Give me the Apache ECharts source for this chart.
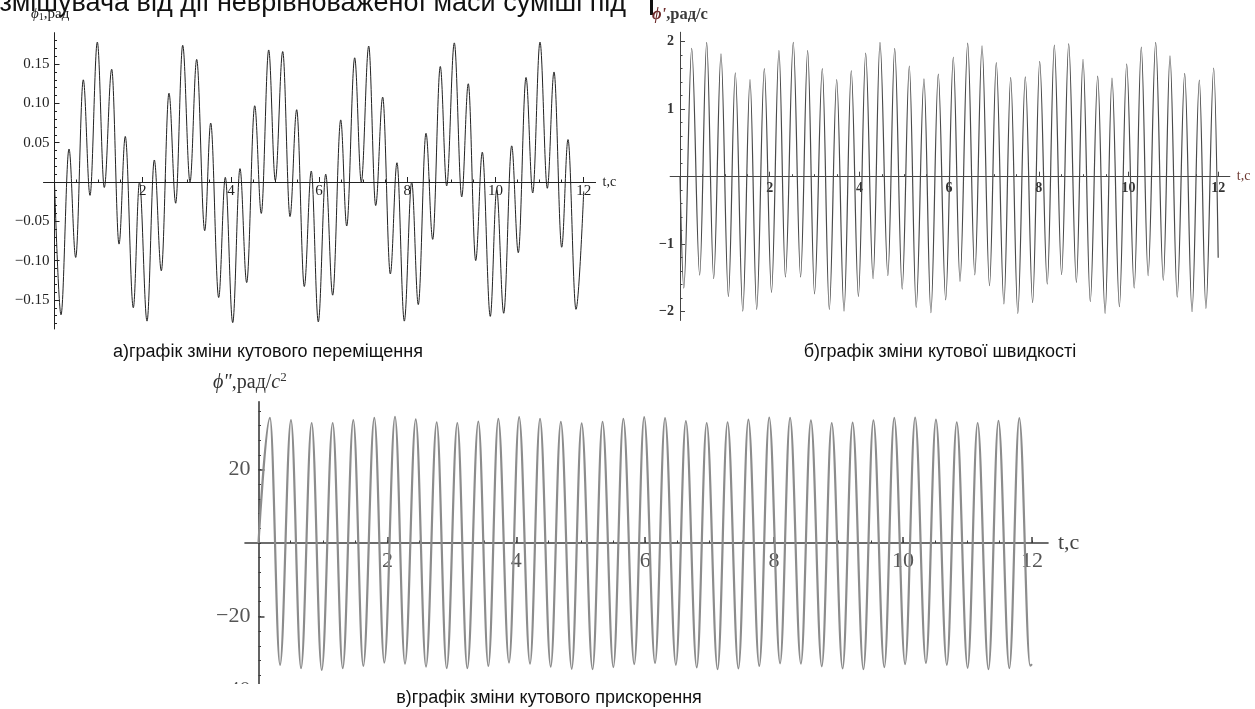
<!DOCTYPE html>
<html><head><meta charset="utf-8">
<script src="https://cdn.jsdelivr.net/npm/echarts@6/dist/echarts.min.js"></script>
<style>html,body{margin:0;padding:0;background:#fff;overflow:hidden}#c{width:1255px;height:709px}</style>
</head><body><div id="c"></div>
<script>
// ---------- data ----------
const xTicks = [2, 4, 6, 8, 10, 12];
const dispTicks = [-0.15, -0.10, -0.05, 0.05, 0.10, 0.15];
const velTicks = [-2, -1, 1, 2];
const accTicks = [-40, -20, 20];

// a) angular displacement: extrema (t, rad)
const dispT = [0,0.147,0.329,0.481,0.653,0.805,0.971,1.129,1.297,1.463,1.605,1.787,1.927,2.098,2.263,2.422,2.596,2.748,2.907,3.073,3.224,3.406,3.542,3.723,3.873,4.041,4.206,4.358,4.540,4.689,4.857,5.007,5.175,5.340,5.492,5.664,5.823,5.982,6.150,6.308,6.490,6.626,6.807,6.957,7.125,7.283,7.442,7.615,7.766,7.932,8.100,8.249,8.424,8.576,8.748,8.893,9.066,9.234,9.383,9.551,9.701,9.882,10.027,10.186,10.367,10.517,10.692,10.844,11.009,11.175,11.327,11.501,11.644,11.825,12.0];
const dispV = [0,-0.169,0.042,-0.096,0.130,-0.017,0.178,-0.007,0.1435,-0.079,0.058,-0.160,0.0,-0.177,0.028,-0.113,0.113,-0.027,0.174,0.0,0.156,-0.062,0.075,-0.147,0.006,-0.179,0.017,-0.128,0.097,-0.040,0.168,0.002,0.166,-0.044,0.092,-0.133,0.014,-0.178,0.010,-0.144,0.079,-0.056,0.158,0.0,0.173,-0.030,0.108,-0.117,0.0245,-0.177,0.0,-0.156,0.062,-0.073,0.147,-0.005,0.177,-0.019,0.125,-0.100,0.038,-0.171,-0.01,-0.167,0.046,-0.090,0.133,-0.014,0.178,-0.008,0.140,-0.083,0.054,-0.162,-0.012];

// b) angular velocity: start, peaks, troughs, end
const velPeakT = [0.261,0.595,0.914,1.233,1.561,1.880,2.207,2.526,2.847,3.173,3.494,3.819,4.140,4.459,4.787,5.113,5.440,5.759,6.094,6.415,6.734,7.052,7.373,7.699,8.020,8.346,8.667,8.986,9.313,9.632,9.960,10.285,10.606,10.925,11.253,11.579,11.900];
const velPeakV = [1.90,1.99,1.82,1.54,1.44,1.60,1.87,1.99,1.87,1.60,1.44,1.57,1.83,1.99,1.90,1.64,1.45,1.52,1.77,1.98,1.94,1.69,1.47,1.48,1.71,1.95,1.97,1.74,1.49,1.46,1.67,1.92,1.99,1.79,1.53,1.43,1.61];
const velTroughT = [0.085,0.439,0.751,1.079,1.400,1.710,2.040,2.350,2.689,2.999,3.329,3.657,3.978,4.305,4.635,4.954,5.266,5.594,5.924,6.243,6.573,6.901,7.222,7.532,7.862,8.189,8.508,8.838,9.148,9.478,9.797,10.127,10.437,10.776,11.086,11.416,11.726];
const velTroughV = [-1.65,-1.46,-1.51,-1.775,-1.99,-1.965,-1.715,-1.485,-1.485,-1.735,-1.965,-1.99,-1.775,-1.51,-1.465,-1.665,-1.935,-2.015,-1.825,-1.55,-1.455,-1.615,-1.885,-2.025,-1.865,-1.59,-1.45,-1.565,-1.85,-2.025,-1.925,-1.65,-1.465,-1.535,-1.785,-2.0,-1.95];
const velStart = [0, 0];
const velEnd = [12.0, -1.2];

// c) angular acceleration: start, peaks, troughs, end
const accPeakT = [0.178,0.504,0.825,1.151,1.471,1.797,2.118,2.440,2.765,3.085,3.411,3.721,4.044,4.368,4.691,5.014,5.338,5.661,5.984,6.308,6.631,6.954,7.278,7.601,7.924,8.248,8.571,8.894,9.218,9.541,9.864,10.188,10.511,10.834,11.158,11.481,11.804];
const accPeakV = [34.1,33.5,32.7,32.7,33.5,34.1,34.4,33.7,32.9,32.7,33.1,33.8,34.3,33.8,33.0,32.6,33.0,33.8,34.3,34.0,33.2,32.7,32.9,33.6,34.2,34.1,33.4,32.7,32.8,33.4,34.1,34.2,33.6,32.9,32.7,33.3,34.0];
const accTroughT = [0.334,0.660,0.981,1.307,1.626,1.952,2.273,2.599,2.920,3.240,3.566,3.887,4.213,4.534,4.860,5.183,5.506,5.830,6.153,6.476,6.800,7.123,7.446,7.770,8.093,8.416,8.740,9.063,9.386,9.710,10.033,10.356,10.680,11.003,11.326,11.650,11.973];
const accTroughV = [-33.2,-34.1,-34.6,-34.1,-33.5,-32.6,-32.9,-33.7,-34.1,-34.1,-33.5,-32.6,-32.9,-33.7,-34.3,-34.4,-33.8,-33.0,-32.7,-33.2,-33.9,-34.4,-34.2,-33.5,-32.8,-32.9,-33.6,-34.2,-34.4,-33.8,-33.0,-32.7,-33.2,-34.0,-34.4,-34.1,-33.4];
const accStart = [0, 0];
const accEnd = [12.0, -33.0];

// ---------- build series data ----------
function merge(start, pT, pV, tT, tV, end) {
  const pts = [start];
  pT.forEach((t, i) => pts.push([t, pV[i]]));
  tT.forEach((t, i) => pts.push([t, tV[i]]));
  pts.push(end);
  return pts.sort((a, b) => a[0] - b[0]);
}
const dispData = dispT.map((t, i) => [t, dispV[i]]);
const velData = merge(velStart, velPeakT, velPeakV, velTroughT, velTroughV, velEnd);
const accData = merge(accStart, accPeakT, accPeakV, accTroughT, accTroughV, accEnd);

function steps(a, b, s) { const r = []; for (let v = a; v <= b + 1e-9; v += s) r.push(+v.toFixed(4)); return r; }

// ---------- layout ----------
const L = [
  { x0: 54.5, pxT: 44.1, tMin: -0.25, tMax: 12.27, y0: 182, pxV: 786, vMin: -0.187, vMax: 0.19 },
  { x0: 680, pxT: 44.85, tMin: -0.22, tMax: 12.26, y0: 176.7, pxV: 67.5, vMin: -2.13, vMax: 2.14 },
  { x0: 258.5, pxT: 64.45, tMin: -0.21, tMax: 12.25, y0: 543, pxV: 3.67, vMin: -41.5, vMax: 38.5 }
];
const grids = L.map(g => ({
  left: g.x0 + g.tMin * g.pxT, width: (g.tMax - g.tMin) * g.pxT,
  top: g.y0 - g.vMax * g.pxV, height: (g.vMax - g.vMin) * g.pxV,
  outerBoundsMode: 'none', containLabel: false
}));

const SERIF = '"Liberation Serif","DejaVu Serif","Times New Roman",serif';
const SANS = '"Liberation Sans",Arial,"DejaVu Sans",sans-serif';
const minus = v => String(v).replace('-', '\u2212');

const sty = [
  { axis: '#222', text: '#222', fs: 15, curve: '#222', cw: 1, bold: 'normal', xm: 2, ym: 5 },
  { axis: '#444', text: '#333', fs: 14, curve: '#4a4a4a', cw: 1.2, bold: 'bold', xm: 5, ym: 6 },
  { axis: '#3c3c3c', text: '#555', fs: 22, curve: '#8c8c8c', cw: 2.2, bold: 'normal', xm: 7, ym: 8 }
];

const xMinor = [steps(0.5, 12, 0.5), steps(0.5, 12, 0.5), steps(0.5, 12, 0.5)];
const yMinor = [steps(-0.18, 0.18, 0.01), steps(-2, 2, 0.2), steps(-40, 36, 4)];
const yMajor = [dispTicks, velTicks, accTicks];
const yFmt = [v => minus(v.toFixed(2)), v => minus(v), v => minus(v)];
const xNames = ['t,c', 't,c', 't,c'];
const xNameColor = ['#222', '#6e3a33', '#444'];

const xAxis = [], yAxis = [];
L.forEach((g, i) => {
  const s = sty[i];
  const xOff = g.vMin * g.pxV;   // moves the x axis up onto value 0
  const yOff = g.tMin * g.pxT;   // moves the y axis right onto t = 0
  xAxis.push({
    type: 'value', gridIndex: i, min: g.tMin, max: g.tMax, position: 'bottom', offset: xOff,
    axisLine: { onZero: false, lineStyle: { color: s.axis, width: i === 2 ? 1.6 : 1 } },
    axisTick: { show: true, inside: true, length: i === 2 ? 6 : 5, customValues: xTicks, lineStyle: { color: s.axis, width: i === 2 ? 1.5 : 1 } },
    axisLabel: { customValues: xTicks, fontFamily: SERIF, fontSize: s.fs, fontWeight: s.bold, color: s.text, margin: s.xm },
    splitLine: { show: false },
    name: xNames[i], nameLocation: 'end', nameGap: i === 2 ? 10 : 7,
    nameTextStyle: { fontFamily: SERIF, fontSize: i === 0 ? 14 : s.fs, color: xNameColor[i], verticalAlign: 'middle' }
  });
  xAxis.push({
    type: 'value', gridIndex: i, min: g.tMin, max: g.tMax, position: 'bottom', offset: xOff,
    axisLine: { show: false, onZero: false },
    axisTick: { show: true, inside: true, length: 2.5, customValues: xMinor[i], lineStyle: { color: s.axis } },
    axisLabel: { show: false }, splitLine: { show: false }
  });
  yAxis.push({
    type: 'value', gridIndex: i, min: g.vMin, max: g.vMax, position: 'left', offset: yOff,
    axisLine: { onZero: false, lineStyle: { color: s.axis, width: i === 2 ? 1.6 : 1 } },
    axisTick: { show: true, inside: true, length: i === 2 ? 6 : 5, customValues: yMajor[i], lineStyle: { color: s.axis, width: i === 2 ? 1.5 : 1 } },
    axisLabel: { customValues: yMajor[i], formatter: yFmt[i], fontFamily: SERIF, fontSize: s.fs, fontWeight: s.bold, color: s.text, margin: s.ym },
    splitLine: { show: false }
  });
  yAxis.push({
    type: 'value', gridIndex: i, min: g.vMin, max: g.vMax, position: 'left', offset: yOff,
    axisLine: { show: false, onZero: false },
    axisTick: { show: true, inside: true, length: 2.5, customValues: yMinor[i], lineStyle: { color: s.axis } },
    axisLabel: { show: false }, splitLine: { show: false }
  });
});

const datasets = [dispData, velData, accData];
const series = datasets.map((d, i) => ({
  type: 'line', xAxisIndex: 2 * i, yAxisIndex: 2 * i, data: d,
  smooth: 0.36, smoothMonotone: 'x', showSymbol: false, symbol: 'none',
  lineStyle: { color: sty[i].curve, width: sty[i].cw }, silent: true, clip: false, z: 3
}));

const graphic = [
  // cut-off sentence at the top of the page
  { type: 'text', x: 626, y: 17, z: 10,
    style: { text: 'змішувача від дії неврівноваженої маси суміші під', font: '27px ' + SANS, fill: '#111', align: 'right', verticalAlign: 'bottom' } },
  { type: 'rect', shape: { x: 650, y: 0, width: 3, height: 15 }, style: { fill: '#111' }, z: 10 },
  // y-axis names
  { type: 'text', left: 31, top: 7, z: 10,
    style: { rich: { p: { fontFamily: SERIF, fontStyle: 'italic', fontSize: 15, fill: '#222' }, s: { fontFamily: SERIF, fontSize: 10, fill: '#222', padding: [6, 0, 0, 0] }, t: { fontFamily: SERIF, fontSize: 15, fill: '#222' } },
      text: '{p|ϕ}{s|1}{t|,рад}' } },
  { type: 'text', left: 652, top: 6, z: 10,
    style: { rich: { p: { fontFamily: SERIF, fontStyle: 'italic', fontSize: 16.5, fill: '#6e2c2c', fontWeight: 'bold' }, t: { fontFamily: SERIF, fontSize: 16.5, fill: '#3a3a3a', fontWeight: 'bold' } },
      text: "{p|ϕ'}{t|,рад/с}" } },
  { type: 'text', left: 213, top: 371, z: 10,
    style: { rich: { p: { fontFamily: SERIF, fontStyle: 'italic', fontSize: 20, fill: '#333' }, t: { fontFamily: SERIF, fontSize: 20, fill: '#333' }, c: { fontFamily: SERIF, fontStyle: 'italic', fontSize: 20, fill: '#333' }, s: { fontFamily: SERIF, fontSize: 13, fill: '#333', padding: [0, 0, 10, 0] } },
      text: '{p|ϕ"}{t|,рад/}{c|c}{s|2}' } },
  // crop of the third plot
  { type: 'rect', shape: { x: 150, y: 684, width: 950, height: 25 }, style: { fill: '#fff' }, z: 20 },
  // captions
  { type: 'text', x: 268, y: 352, z: 30,
    style: { text: 'а)графік зміни кутового переміщення', font: '18px ' + SANS, fill: '#111', align: 'center', verticalAlign: 'middle' } },
  { type: 'text', x: 940, y: 352, z: 30,
    style: { text: 'б)графік зміни кутової швидкості', font: '18px ' + SANS, fill: '#111', align: 'center', verticalAlign: 'middle' } },
  { type: 'text', x: 549, y: 698, z: 30,
    style: { text: 'в)графік зміни кутового прискорення', font: '18px ' + SANS, fill: '#111', align: 'center', verticalAlign: 'middle' } }
];

const chart = echarts.init(document.getElementById('c'), null, { renderer: 'canvas' });
chart.setOption({
  animation: false, backgroundColor: '#fff',
  grid: grids, xAxis, yAxis, series, graphic
});
</script></body></html>
